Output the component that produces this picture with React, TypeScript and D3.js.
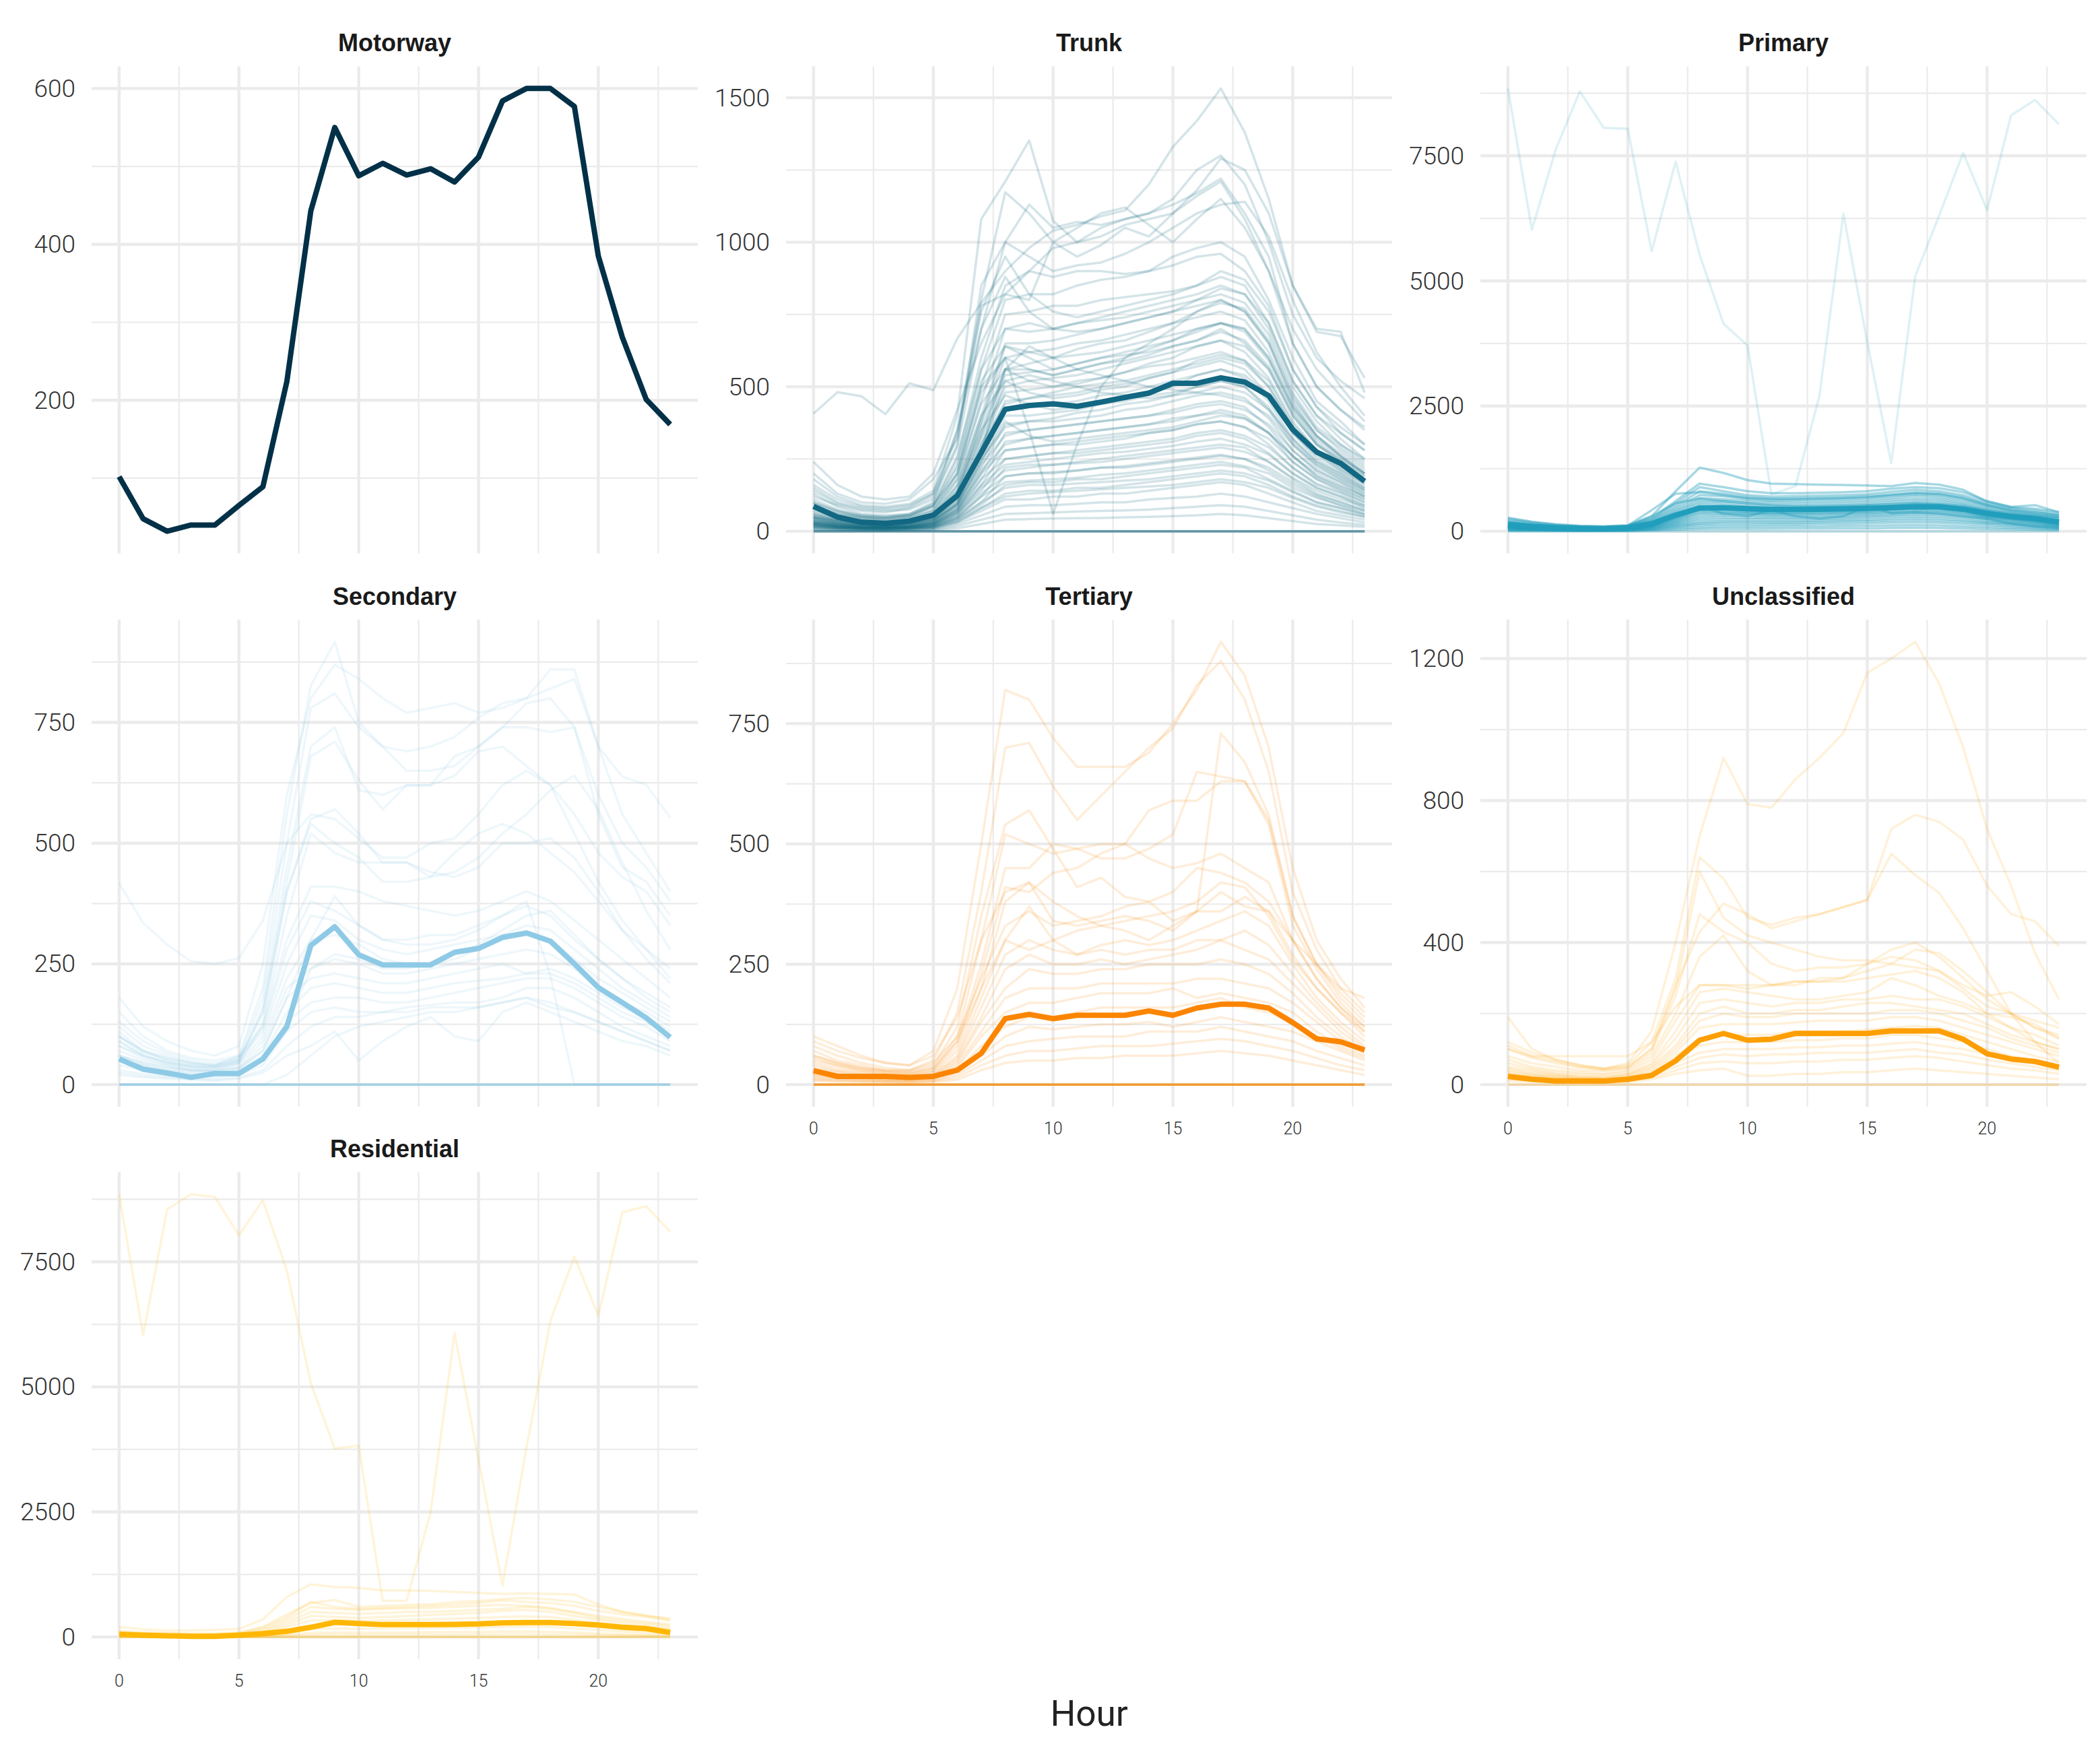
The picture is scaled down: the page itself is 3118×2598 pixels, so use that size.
import React from 'react';
import * as d3 from 'd3';

// ---------- DATA ----------
const HOURS = [0,1,2,3,4,5,6,7,8,9,10,11,12,13,14,15,16,17,18,19,20,21,22,23];
const PANEL_NAMES = ['Motorway','Trunk','Primary','Secondary','Tertiary','Unclassified','Residential'];
const PANEL_COLORS = ['#023047','#126782','#219EBC','#8ECAE6','#FB8500','#FD9E02','#FFB703'];
const Y_TICKS = [
  [200,400,600],
  [0,500,1000,1500],
  [0,2500,5000,7500],
  [0,250,500,750],
  [0,250,500,750],
  [0,400,800,1200],
  [0,2500,5000,7500],
];
const X_TICKS = [0,5,10,15,20];
const X_AXIS_PANELS = [4,5,6];
const ZERO_COUNTS = [0,6,2,8,9,2,3];
const ZERO = [0,0,0,0,0,0,0,0,0,0,0,0,0,0,0,0,0,0,0,0,0,0,0,0];
// number of leading sensor lines per panel that are isolated outliers
const OUTLIER_COUNTS = [0,0,1,0,0,0,1];
const OUTLIER_OPACITY = 0.15;
// opacity of the bundled sensor lines (fewer drawn lines stand in for a denser bundle)
const BAND_OPACITY = [0.15,0.18,0.4,0.15,0.15,0.15,0.15];

// mean (bold) lines
const motorwayMean = [102,48,32,40,40,65,89,224,443,550,488,504,489,497,480,512,584,600,600,577,385,281,201,169];
const trunkMean = [86,49,31,27,35,56,123,272,422,435,441,432,447,463,478,512,512,531,516,469,352,274,235,173];
const primaryMean = [130,95,70,55,50,65,150,320,460,470,450,435,435,440,445,455,470,490,485,440,355,295,255,185];
const secondaryMean = [53,32,24,15,23,23,53,120,288,327,269,248,248,248,274,282,305,314,297,250,201,170,138,98];
const tertiaryMean = [29,17,17,17,15,17,30,65,137,146,137,144,144,144,153,144,159,167,167,159,129,95,89,72];
const unclassifiedMean = [23,15,10,10,10,15,26,67,125,144,125,128,144,144,144,144,151,151,151,128,87,72,65,49];
const residentialMean = [54,36,22,13,13,36,67,112,193,291,269,246,246,246,251,260,282,287,287,269,237,193,166,90];

// individual sensor lines
const motorwaySensors: number[][] = [];

const trunkSensors = [
  [407,481,467,405,512,488,667,790,900,980,1040,1060,1090,1110,1200,1330,1420,1532,1380,1150,850,690,675,530],
  [180,120,90,85,95,140,400,1080,1210,1352,1074,1000,1050,1080,1100,1150,1250,1300,1200,1000,750,600,520,460],
  [150,100,80,75,85,130,350,800,1173,1100,1000,950,990,1050,1020,1100,1160,1210,1080,900,700,560,470,380],
  [120,90,70,65,80,120,300,850,1000,1130,1050,1070,1060,1080,1100,1130,1170,1220,1100,950,650,500,420,350],
  [100,70,55,50,60,100,350,700,1000,950,900,920,930,960,1000,1050,1100,1130,1140,1020,800,620,500,400],
  [90,60,50,45,55,90,250,600,850,900,880,900,900,890,900,950,980,1000,950,800,600,450,380,300],
  [80,55,45,40,50,85,220,560,800,820,820,850,870,880,900,920,950,960,900,780,560,430,340,280],
  [70,50,40,35,45,70,200,500,750,760,780,780,800,810,820,830,850,880,850,720,520,400,320,250],
  [60,45,35,30,40,60,180,450,700,720,700,720,740,760,780,800,820,850,820,700,500,380,300,240],
  [55,40,30,28,35,55,160,400,650,650,660,680,700,720,740,760,780,800,760,650,460,350,280,220],
  [50,38,28,25,33,50,150,380,600,620,630,650,660,680,700,720,740,760,730,620,440,330,260,200],
  [48,35,26,24,30,48,140,360,560,580,600,610,620,640,660,680,700,720,690,590,420,310,250,190],
  [45,32,24,22,28,45,130,340,540,550,560,580,600,610,620,640,660,700,650,560,400,300,240,180],
  [40,30,22,20,26,40,120,320,500,520,530,540,560,580,600,620,640,660,620,530,380,280,220,170],
  [38,28,20,18,24,38,110,300,480,490,500,520,530,550,570,580,600,620,590,500,360,270,210,160],
  [35,26,19,17,22,35,100,280,450,460,470,480,500,510,530,550,570,590,560,470,340,250,200,150],
  [32,24,18,16,20,32,95,260,420,430,440,450,470,480,500,520,540,560,530,450,320,240,190,140],
  [30,22,16,15,19,30,90,240,400,400,410,420,440,450,470,480,500,520,500,420,300,220,180,130],
  [28,20,15,14,18,28,80,220,370,380,380,390,400,420,430,450,470,480,460,390,280,210,170,120],
  [26,18,14,13,16,26,75,200,340,350,360,370,380,390,400,420,440,450,430,360,260,190,150,110],
  [24,17,13,12,15,24,70,180,310,320,330,340,350,360,370,390,400,420,400,340,240,180,140,100],
  [22,16,12,11,14,22,65,160,280,290,300,300,310,320,340,350,370,380,360,300,220,160,130,90],
  [20,14,11,10,13,20,60,140,250,260,270,270,280,290,300,310,330,340,320,270,200,150,120,80],
  [18,13,10,9,12,18,50,120,220,230,230,240,250,260,270,280,290,300,290,240,180,130,100,70],
  [16,12,9,8,11,16,45,100,190,200,200,210,220,220,230,240,250,260,250,210,160,120,90,60],
  [14,10,8,7,10,14,40,90,160,170,170,180,180,190,200,210,220,230,220,180,140,100,80,55],
  [12,9,7,6,8,12,35,80,130,140,140,150,150,160,170,180,190,200,190,160,120,90,70,50],
  [10,8,6,5,7,10,30,70,110,110,120,120,130,130,140,150,160,170,160,130,100,70,55,40],
  [8,6,5,4,6,8,25,55,85,90,90,95,100,100,110,115,120,130,120,100,80,60,45,30],
  [6,5,4,3,4,6,18,40,60,62,65,68,70,72,75,80,85,90,85,70,55,40,30,22],
  [4,3,2,2,3,4,10,25,40,42,44,45,46,48,50,52,55,60,55,45,35,25,20,15],
  [240,160,120,110,120,200,420,650,820,900,980,1000,1020,1060,1080,1100,1180,1290,1250,1100,850,700,690,480],
  [200,130,100,95,110,180,320,780,820,800,1000,1050,1100,1120,1060,1000,1080,1150,1050,900,650,500,420,360],
  [100,70,50,45,55,90,200,500,600,350,60,300,500,600,650,700,760,800,760,650,450,330,260,200],
  [130,85,60,55,60,95,260,560,700,690,700,720,730,740,760,780,800,820,790,680,480,360,300,250],
  [110,75,55,50,55,85,230,520,640,620,600,630,650,660,690,720,760,790,770,660,470,350,290,230],
  [95,65,50,45,50,75,200,480,600,560,540,560,580,600,630,660,700,720,700,600,430,330,270,210],
  [85,60,45,40,45,70,180,440,560,520,500,510,530,550,580,600,640,660,640,560,400,300,250,200],
  [75,55,40,36,40,60,160,400,520,480,460,470,490,500,530,550,590,610,590,520,370,280,230,180],
  [65,48,36,32,36,55,140,350,470,440,420,430,440,460,480,500,540,560,540,470,340,260,210,165],
  [160,110,85,80,90,130,330,760,950,820,760,740,760,780,800,820,850,900,870,760,560,430,360,300],
  [140,95,75,70,75,110,290,700,880,760,700,690,700,720,740,760,800,840,820,720,520,400,340,280],
  [60,40,30,28,30,45,110,280,560,640,600,560,540,520,500,490,480,470,450,400,300,230,180,140],
  [50,35,28,25,28,40,90,240,380,330,310,320,330,340,350,360,380,400,390,340,260,200,160,120],
  [45,30,22,20,24,40,100,300,440,460,480,500,510,520,540,560,580,600,580,500,360,270,220,170],
  [42,28,20,18,22,36,95,280,520,540,520,500,480,470,460,470,480,500,480,420,320,240,200,150],
  [38,26,19,17,20,33,88,250,360,380,390,410,420,440,450,470,500,520,500,430,310,230,190,145],
  [35,24,18,16,19,30,80,230,330,350,360,370,380,390,400,410,430,440,420,370,280,210,170,130],
  [32,22,16,15,18,28,75,210,300,320,330,340,350,360,370,380,400,410,390,340,260,190,155,120],
  [30,20,15,14,16,26,70,200,280,290,300,310,320,330,340,350,370,380,360,320,240,180,145,110],
  [28,19,14,13,15,24,65,180,250,260,270,280,290,300,310,320,340,350,330,290,220,165,135,100],
  [26,18,13,12,14,22,60,160,230,240,250,260,270,275,285,295,310,320,300,265,200,150,120,90],
  [24,16,12,11,13,20,55,150,210,220,230,235,240,250,260,270,280,290,275,240,185,140,110,85],
  [22,15,11,10,12,18,50,130,190,200,205,210,220,225,235,245,255,265,250,220,170,125,100,75],
  [20,14,10,9,11,16,45,120,170,175,180,185,195,200,210,220,230,240,225,200,150,115,90,70],
  [55,38,28,25,30,48,130,380,640,600,560,580,600,620,640,660,690,720,700,600,430,320,260,200],
  [48,34,25,22,27,42,115,330,560,560,540,560,580,590,610,640,660,690,660,570,410,300,240,190],
  [18,12,9,8,10,14,40,100,150,160,160,165,170,175,180,190,200,210,200,175,135,100,80,60],
  [15,10,8,7,8,12,32,80,120,130,135,140,145,150,155,160,170,180,170,150,115,85,65,50],
];

const primarySensors = [
  [8843,6021,7629,8786,8057,8036,5593,7379,5521,4143,3714,736,900,2700,6343,3771,1357,5093,6307,7557,6414,8307,8614,8129],
  [271,190,140,110,100,120,300,800,1271,1164,1021,950,940,930,925,914,900,964,930,829,593,486,521,379],
  [250,180,130,100,90,110,260,600,950,880,800,760,760,770,780,800,850,880,860,780,600,480,450,380],
  [220,160,120,95,85,100,240,550,880,800,720,690,700,710,720,740,790,830,800,720,560,460,420,340],
  [200,140,100,80,75,90,220,500,800,750,680,650,660,670,680,700,740,780,760,680,530,430,380,310],
  [180,130,95,75,70,85,200,460,720,700,640,610,620,630,640,660,700,740,720,640,500,400,350,280],
  [160,120,85,70,65,80,180,420,660,640,600,580,580,590,600,620,660,700,680,600,470,380,330,260],
  [150,110,80,65,60,75,170,390,610,600,560,540,540,550,560,580,620,650,640,560,440,350,300,240],
  [140,100,75,60,55,70,160,360,570,560,520,500,500,510,520,540,580,610,600,530,410,330,280,220],
  [130,95,70,55,50,65,150,330,530,520,490,470,470,480,490,510,540,570,560,500,390,310,260,200],
  [120,90,65,52,48,60,140,310,500,490,460,450,450,455,465,480,510,540,530,470,370,290,250,190],
  [110,85,60,50,45,58,130,290,470,470,440,430,430,435,445,460,490,510,500,450,350,280,240,180],
  [100,80,58,48,43,55,125,270,450,450,420,410,410,415,425,440,470,490,480,430,330,270,230,170],
  [95,75,55,45,40,52,120,260,430,430,400,390,390,395,405,420,450,470,460,410,320,260,220,160],
  [90,70,52,42,38,50,110,240,400,400,380,370,370,375,385,400,430,450,440,390,300,250,210,150],
  [85,65,50,40,36,48,105,220,370,380,360,350,350,355,365,380,400,420,410,370,290,240,200,140],
  [80,60,45,38,34,45,100,200,340,350,340,330,330,335,345,360,380,400,390,350,280,230,190,130],
  [75,55,42,35,32,42,90,180,300,320,310,300,300,305,315,330,350,370,360,320,260,210,170,120],
  [70,50,40,32,30,40,80,160,260,280,270,270,270,275,285,300,320,340,330,290,240,190,160,110],
  [60,45,35,28,26,35,70,140,220,240,240,240,240,245,255,270,290,300,290,260,210,170,140,100],
  [50,40,30,25,22,30,60,120,180,200,200,200,205,210,220,230,250,260,250,220,180,150,120,90],
  [40,30,24,20,18,24,50,100,150,170,170,170,175,180,190,200,210,220,210,190,160,130,100,75],
  [30,24,18,15,14,18,40,80,120,130,130,135,140,145,150,160,170,175,170,150,130,100,80,60],
  [20,16,12,10,9,12,26,55,80,90,90,95,100,100,105,110,115,120,115,100,85,70,55,40],
  [10,8,6,5,5,6,14,30,45,50,50,52,55,55,58,60,65,68,65,55,45,38,30,22],
  [140,100,80,70,70,100,300,560,650,600,560,520,500,500,510,520,540,560,540,500,420,360,320,280],
  [50,30,25,20,20,30,100,300,500,350,300,420,300,250,300,500,360,380,350,300,250,150,100,60],
  [180,120,90,80,80,110,420,750,780,720,660,640,640,650,660,680,720,760,740,660,520,420,380,320],
];

const secondarySensors = [
  [120,80,60,45,40,60,200,560,826,917,750,700,690,700,720,760,790,800,860,860,700,560,480,400],
  [180,120,90,70,60,80,250,600,800,870,840,800,770,780,790,770,780,800,820,840,700,638,621,553],
  [110,70,55,45,40,55,180,500,780,810,740,700,650,650,660,700,740,790,800,740,560,450,420,350],
  [100,65,50,40,38,50,160,450,700,740,610,600,620,620,680,700,740,740,730,740,600,500,450,380],
  [90,60,45,35,35,50,150,420,680,710,630,570,620,620,640,690,700,660,620,560,480,430,400,330],
  [80,55,40,30,30,45,130,400,550,570,520,460,460,430,440,470,520,560,610,640,570,460,360,280],
  [417,335,290,255,250,262,340,500,560,550,510,470,470,500,510,560,620,650,620,520,420,340,280,220],
  [150,100,70,55,50,60,120,300,410,410,400,380,370,360,350,360,380,400,380,340,300,260,220,180],
  [130,90,65,50,45,55,110,280,380,360,330,300,290,290,300,320,350,370,350,300,260,220,190,160],
  [100,70,50,40,35,45,100,250,350,340,300,280,270,280,290,300,310,330,320,280,240,200,170,140],
  [90,60,45,35,30,40,90,220,300,310,290,260,250,250,260,280,300,310,300,260,220,190,160,130],
  [70,50,40,30,28,35,80,200,240,260,250,230,230,240,250,260,270,280,270,240,200,170,150,120],
  [60,45,35,28,25,32,70,180,220,230,220,210,210,220,230,240,250,230,240,220,190,160,140,110],
  [50,40,30,25,22,30,60,150,200,210,200,190,190,200,210,215,220,230,230,210,180,150,130,100],
  [40,30,25,20,18,25,50,130,170,180,180,170,170,180,190,200,210,220,220,200,170,140,120,90],
  [30,22,18,15,14,20,40,110,150,160,150,150,160,165,170,170,180,200,200,180,150,120,100,80],
  [25,18,15,12,10,15,30,80,120,140,140,150,150,160,160,160,170,180,160,150,130,110,90,70],
  [20,15,12,10,8,12,25,60,80,110,50,90,120,140,100,90,150,170,150,130,110,90,80,60],
  [60,45,35,30,28,35,70,180,300,390,330,300,300,310,310,330,350,380,225,0,0,0,0,0],
  [60,40,30,22,20,25,50,120,240,270,260,240,240,250,270,290,320,350,360,310,260,220,180,150],
  [0,0,0,0,0,0,0,20,60,100,120,130,140,150,150,160,170,180,170,150,130,110,90,70],
  [100,70,55,45,40,50,150,400,540,500,470,420,420,430,480,520,540,520,480,440,380,320,280,240],
  [80,60,45,38,35,45,120,350,520,480,460,460,460,440,430,450,500,500,510,470,400,320,260,210],
];

const tertiarySensors = [
  [100,80,60,45,40,70,200,500,820,800,720,660,660,660,690,750,820,920,850,700,450,300,220,160],
  [80,60,45,35,30,50,150,400,700,710,620,550,600,650,700,740,830,880,800,650,400,280,200,150],
  [70,50,40,30,28,40,120,350,540,570,490,410,430,390,380,340,360,730,670,560,350,250,190,140],
  [60,45,35,28,25,35,100,300,520,500,480,490,470,470,490,520,650,640,630,550,350,250,180,130],
  [50,40,30,25,22,30,90,250,450,450,500,490,500,500,570,590,590,630,630,540,330,240,170,120],
  [45,35,28,22,20,28,80,230,410,400,440,450,480,500,470,450,460,480,450,420,300,220,160,110],
  [40,30,25,20,18,25,70,200,380,420,340,330,340,350,340,320,360,360,390,360,270,200,150,100],
  [35,28,22,18,16,22,60,180,300,370,300,270,290,300,290,300,320,340,360,330,250,180,130,90],
  [30,25,20,16,15,20,55,160,270,300,280,270,280,270,280,280,300,300,320,290,230,170,120,80],
  [28,22,18,15,14,18,50,140,240,270,250,250,260,250,260,270,280,300,280,260,210,160,110,75],
  [25,20,16,14,12,16,45,130,200,240,230,230,240,240,250,250,250,260,250,230,190,140,100,70],
  [22,18,15,12,11,15,40,110,180,200,200,200,210,210,210,210,220,220,210,200,170,130,90,65],
  [20,16,13,11,10,13,35,100,150,170,170,180,190,190,190,200,180,190,180,170,150,110,80,60],
  [18,14,12,10,9,12,30,80,120,140,140,150,160,160,160,160,170,180,160,150,130,100,75,55],
  [15,12,10,8,8,10,25,60,100,120,115,120,125,125,130,120,130,140,130,120,110,90,70,50],
  [12,10,8,7,6,8,20,50,80,90,95,100,100,100,110,110,110,120,110,100,90,70,55,40],
  [10,8,7,6,5,7,15,40,60,70,70,75,80,80,80,85,90,95,90,80,70,55,40,30],
  [8,6,5,4,4,5,10,30,45,50,50,55,55,60,60,60,65,70,65,60,50,40,30,20],
  [90,70,55,45,40,60,140,300,400,420,380,350,330,320,300,330,360,400,370,360,300,250,200,180],
  [60,45,35,30,30,45,100,220,330,360,330,340,350,370,380,400,450,440,420,380,300,220,160,120],
  [55,40,32,26,24,34,90,200,300,280,300,320,330,340,350,360,380,420,410,350,260,200,150,110],
];

const unclassifiedSensors = [
  [190,100,70,55,45,60,150,400,700,920,790,780,860,920,990,1160,1200,1247,1130,950,720,560,370,240],
  [120,90,70,55,45,55,120,300,640,580,470,450,470,480,500,520,650,590,540,440,320,200,120,60],
  [110,80,65,50,45,50,100,280,430,510,480,440,460,480,500,520,720,760,740,690,560,480,460,390],
  [100,75,60,48,40,48,100,270,600,470,420,400,380,360,350,350,340,380,370,320,260,200,160,130],
  [80,60,50,40,38,45,90,250,480,430,400,340,320,330,330,340,380,400,360,300,240,200,160,140],
  [70,50,40,35,30,40,80,200,360,420,320,280,290,290,300,340,360,350,320,270,220,200,180,160],
  [60,45,35,30,28,35,70,180,280,280,270,280,280,300,300,320,340,330,320,280,250,260,220,170],
  [50,40,30,25,22,30,60,150,260,270,260,250,240,240,250,260,300,280,250,230,200,190,170,130],
  [45,35,28,22,20,28,55,130,230,240,230,220,230,230,240,240,250,240,240,220,190,160,140,110],
  [40,30,25,20,18,25,50,110,200,220,200,200,210,210,220,230,230,220,210,200,170,140,120,100],
  [35,28,22,18,16,22,45,100,180,200,190,190,200,200,200,200,210,210,200,180,160,130,110,90],
  [30,25,20,16,14,20,40,90,160,170,170,170,175,180,180,180,190,190,180,160,140,120,100,80],
  [28,22,18,15,13,18,35,80,130,140,140,140,150,150,150,155,160,165,160,140,120,100,80,65],
  [25,20,16,14,12,16,30,70,110,120,120,120,125,125,130,130,140,140,130,120,100,80,70,55],
  [22,18,15,12,11,15,28,60,90,100,100,100,105,105,110,110,115,120,110,100,85,70,60,45],
  [20,15,13,11,10,13,25,50,75,85,80,85,85,90,90,90,95,100,90,85,70,60,50,40],
  [15,12,10,8,7,10,20,40,60,65,60,60,65,65,70,70,75,80,75,65,55,45,40,30],
  [10,8,7,6,5,7,15,30,40,45,25,25,30,30,35,35,40,45,40,35,30,25,20,15],
  [100,80,80,80,80,80,120,220,280,280,280,280,290,290,290,300,310,320,300,260,200,160,120,100],
];

const residentialSensors = [
  [8852,6035,8546,8852,8795,8031,8731,7323,5070,3766,3822,724,724,2494,6075,3540,1030,3782,6317,7604,6421,8490,8610,8103],
  [200,150,130,130,140,160,350,800,1050,1000,980,930,930,920,900,880,860,870,860,850,650,500,420,350],
  [120,90,80,70,70,90,200,450,680,740,600,620,640,650,700,720,760,780,750,700,600,500,430,370],
  [100,80,70,60,60,80,180,400,700,600,560,580,600,620,650,680,730,700,680,620,520,450,400,320],
  [80,60,50,45,45,60,150,350,600,560,540,560,570,580,600,620,640,620,580,500,420,360,300,250],
  [60,45,40,35,35,45,120,300,500,480,460,480,500,500,520,540,560,600,560,480,380,320,270,220],
  [50,40,35,30,30,40,100,250,420,400,380,400,420,440,460,480,520,540,500,420,340,280,230,180],
  [40,30,25,22,22,30,80,200,330,340,320,330,340,350,370,380,400,410,400,340,280,230,190,150],
  [20,15,12,10,10,15,40,100,160,170,160,170,170,180,190,190,200,210,200,170,140,110,90,70],
  [10,8,6,5,5,8,20,50,80,90,85,90,90,95,100,100,110,110,100,90,70,55,45,35],
  [5,4,3,3,3,4,10,25,40,45,45,48,50,50,50,52,55,55,50,45,35,28,22,18],
];

const PANEL_MEANS = [motorwayMean, trunkMean, primaryMean, secondaryMean, tertiaryMean, unclassifiedMean, residentialMean];
const PANEL_SENSORS = [motorwaySensors, trunkSensors, primarySensors, secondarySensors, tertiarySensors, unclassifiedSensors, residentialSensors];

// ---------- LAYOUT ----------
const W = 3118;
const H = 2598;
const COL_LEFT = [136, 1167, 2198];
const ROW_TOP = [98.5, 920, 1740];
const PANEL_W = 900;
const PANEL_H = 723;
const GRID = '#EBEBEB';
const TEXT = '#333333';

function Panel({ idx }: { idx: number }) {
  const col = idx % 3;
  const row = Math.floor(idx / 3);
  const left = COL_LEFT[col];
  const top = ROW_TOP[row];
  const color = PANEL_COLORS[idx];
  const mean = PANEL_MEANS[idx];
  const sensors = PANEL_SENSORS[idx];
  const nOut = OUTLIER_COUNTS[idx];
  const outliers = sensors.slice(0, nOut);
  const band = sensors.slice(nOut);
  const zeros = Array.from({ length: ZERO_COUNTS[idx] }, () => ZERO);
  const all = [mean, ...sensors, ...zeros];

  const xMin = d3.min(HOURS) as number;
  const xMax = d3.max(HOURS) as number;
  const xPad = (xMax - xMin) * 0.05;
  const x = d3.scaleLinear().domain([xMin - xPad, xMax + xPad]).range([left, left + PANEL_W]);

  const yLo = d3.min(all, (s) => d3.min(s)) as number;
  const yHi = d3.max(all, (s) => d3.max(s)) as number;
  const yPad = (yHi - yLo) * 0.05;
  const y = d3.scaleLinear().domain([yLo - yPad, yHi + yPad]).range([top + PANEL_H, top]);
  const [d0, d1] = y.domain();

  const majors = Y_TICKS[idx];
  const step = majors[1] - majors[0];
  const minors = [majors[0] - step / 2, ...majors.map((m) => m + step / 2)].filter((v) => v >= d0 && v <= d1);
  const majorsIn = majors.filter((v) => v >= d0 && v <= d1);

  const xStep = X_TICKS[1] - X_TICKS[0];
  const [xd0, xd1] = x.domain();
  const xMinors = [X_TICKS[0] - xStep / 2, ...X_TICKS.map((m) => m + xStep / 2)].filter((v) => v >= xd0 && v <= xd1);

  const line = d3
    .line<number>()
    .x((_, i) => x(HOURS[i]))
    .y((v) => y(v));

  return (
    <g>
      {minors.map((v) => (
        <line key={'ym' + v} x1={left} x2={left + PANEL_W} y1={y(v)} y2={y(v)} stroke={GRID} strokeWidth={2.2} />
      ))}
      {xMinors.map((v) => (
        <line key={'xm' + v} x1={x(v)} x2={x(v)} y1={top} y2={top + PANEL_H} stroke={GRID} strokeWidth={2.2} />
      ))}
      {majorsIn.map((v) => (
        <line key={'yM' + v} x1={left} x2={left + PANEL_W} y1={y(v)} y2={y(v)} stroke={GRID} strokeWidth={4.4} />
      ))}
      {X_TICKS.map((v) => (
        <line key={'xM' + v} x1={x(v)} x2={x(v)} y1={top} y2={top + PANEL_H} stroke={GRID} strokeWidth={4.4} />
      ))}
      {outliers.map((s, i) => (
        <path key={'o' + i} d={line(s) || ''} fill="none" stroke={color} strokeOpacity={OUTLIER_OPACITY} strokeWidth={3.5} strokeLinejoin="round" />
      ))}
      {zeros.map((s, i) => (
        <path key={'z' + i} d={line(s) || ''} fill="none" stroke={color} strokeOpacity={0.15} strokeWidth={3.5} />
      ))}
      {band.map((s, i) => (
        <path key={'f' + i} d={line(s) || ''} fill="none" stroke={color} strokeOpacity={BAND_OPACITY[idx]} strokeWidth={3.5} strokeLinejoin="round" />
      ))}
      <path d={line(mean) || ''} fill="none" stroke={color} strokeWidth={8} strokeLinejoin="round" />
      {majorsIn.map((v) => (
        <text
          key={'yl' + v}
          x={left - 24}
          y={y(v)}
          textAnchor="end"
          dominantBaseline="central"
          fontFamily="Roboto, 'Liberation Sans', sans-serif"
          fontWeight={300}
          fontSize={37}
          fill={TEXT}
        >
          {v}
        </text>
      ))}
      {X_AXIS_PANELS.includes(idx) &&
        X_TICKS.map((v) => (
          <text
            key={'xl' + v}
            x={x(v)}
            y={top + PANEL_H + 41}
            textAnchor="middle"
            fontFamily="Roboto, 'Liberation Sans', sans-serif"
            fontWeight={300}
            fontSize={25}
            fill={TEXT}
          >
            {v}
          </text>
        ))}
      <text
        x={left + PANEL_W / 2}
        y={top - 22.5}
        textAnchor="middle"
        fontFamily="'Liberation Sans', Arial, sans-serif"
        fontWeight="bold"
        fontSize={36}
        fill="#1a1a1a"
      >
        {PANEL_NAMES[idx]}
      </text>
    </g>
  );
}

export default function App() {
  return (
    <svg
      width={W}
      height={H}
      viewBox={`0 0 ${W} ${H}`}
      style={{ position: 'absolute', left: 0, top: 0, background: '#ffffff' }}
    >
      <rect x={0} y={0} width={W} height={H} fill="#ffffff" />
      {PANEL_NAMES.map((_, i) => (
        <Panel key={i} idx={i} />
      ))}
      <text
        x={(COL_LEFT[0] + COL_LEFT[2] + PANEL_W) / 2}
        y={2562}
        textAnchor="middle"
        fontFamily="Roboto, 'Liberation Sans', sans-serif"
        fontSize={53}
        fill="#222222"
      >
        Hour
      </text>
    </svg>
  );
}
